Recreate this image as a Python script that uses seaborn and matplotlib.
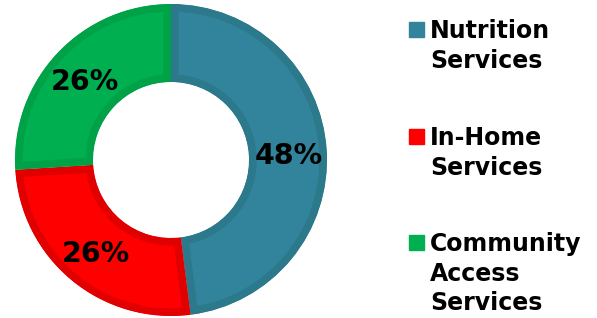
import matplotlib
matplotlib.use("Agg")
import matplotlib.pyplot as plt
import seaborn as sns

sns.set_theme(style="white")
plt.rcParams['font.family'] = ['DejaVu Sans']
plt.rcParams['text.color'] = 'black'

categories = ["Nutrition\nServices", "In-Home\nServices", "Community\nAccess\nServices"]
shares = [48, 26, 26]
fill_colors = ["#31849B", "#FF0000", "#00B050"]
edge_colors = ["#2B798B", "#E00000", "#00A247"]

fig = plt.figure(figsize=(5.97, 3.18), dpi=100)
# square axes of 312 px centred on the ring centre (171, 160 px)
ax = fig.add_axes([15 / 597, 2 / 318, 312 / 597, 312 / 318])

wedges, texts, autotexts = ax.pie(
    shares, colors=fill_colors, startangle=90, counterclock=False,
    radius=1, wedgeprops=dict(width=0.5, linewidth=11),
    autopct="%d%%", pctdistance=0.755,
    textprops=dict(fontsize=20.5, fontweight="bold", color="black"))
for t in autotexts:
    t.set_va("center_baseline")
for w, ec in zip(wedges, edge_colors):
    w.set_edgecolor(ec)
    # keep only the inner half of the stroke
    w.set_clip_on(True)
    w.set_clip_path(w)
ax.set_autoscale_on(False)
ax.set_xlim(-1, 1)
ax.set_ylim(-1, 1)
ax.axis("off")

# legend: square swatch + bold multiline label
tops = [20, 127, 233]
for lab, col, top in zip(categories, fill_colors, tops):
    fig.patches.append(plt.Rectangle((409 / 597, 1 - (top + 17) / 318), 15 / 597, 15 / 318,
                                     color=col, transform=fig.transFigure))
    fig.text(430 / 597, 1 - (top - 1) / 318, lab, fontsize=17, fontweight="bold",
             va="top", ha="left", linespacing=1.3, color="black")

fig.savefig("out.png", dpi=100)
